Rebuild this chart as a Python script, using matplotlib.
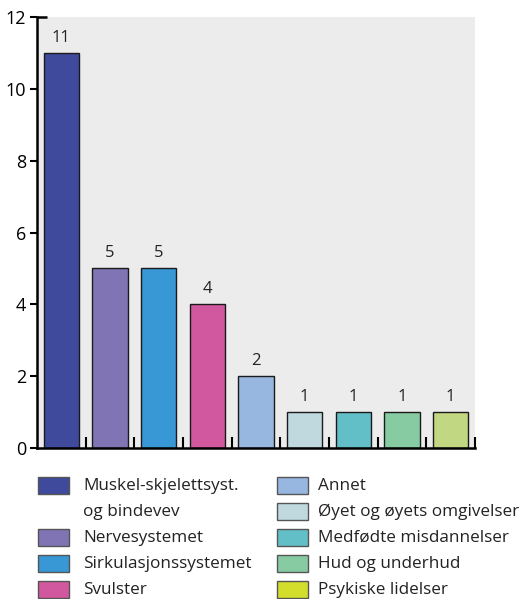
import matplotlib
matplotlib.use("Agg")
import matplotlib.pyplot as plt
from matplotlib.patches import Rectangle

categories = [
    "Muskel-skjelettsyst.\nog bindevev",
    "Nervesystemet",
    "Sirkulasjonssystemet",
    "Svulster",
    "Annet",
    "Øyet og øyets omgivelser",
    "Medfødte misdannelser",
    "Hud og underhud",
    "Psykiske lidelser",
]
values = [11, 5, 5, 4, 2, 1, 1, 1, 1]
bar_colors = ["#3F4A9C", "#8174B5", "#3798D5", "#D1589F", "#97B6E0",
              "#BFD9DF", "#62BFC7", "#87CBA2", "#C2D782"]
legend_colors = ["#3F4A9C", "#8174B5", "#3798D5", "#D1589F", "#97B6E0",
                 "#BFD9DF", "#62BFC7", "#87CBA2", "#D3DE2C"]
y_ticks = [0, 2, 4, 6, 8, 10, 12]

plt.rcParams["font.family"] = ["Open Sans", "DejaVu Sans"]

W, H = 522, 599
fig = plt.figure(figsize=(W / 100, H / 100), dpi=100)
ax = fig.add_axes([37 / W, 1 - 448 / H, (475 - 37) / W, (448 - 17) / H])
ax.set_facecolor("#ECECEC")

x = list(range(len(values)))
ax.bar(x, values, width=0.72, color=bar_colors, edgecolor="#1a1a1a",
       linewidth=1.0, zorder=3)
for xi, v in zip(x, values):
    ax.text(xi, v + 0.2, str(v), ha="center", va="bottom", fontsize=12,
            color="#222222")

ax.set_xlim(-0.5, len(values) - 0.5)
ax.set_ylim(0, 12)
ax.set_yticks(y_ticks)
ax.tick_params(axis="y", direction="out", length=5, width=1.5,
               labelsize=13, pad=3, colors="black")
ax.set_xticks([i + 0.5 for i in range(len(values))])
ax.set_xticklabels([])
ax.tick_params(axis="x", direction="in", length=8, width=1.5)

for s in ("top", "right"):
    ax.spines[s].set_visible(False)
for s in ("left", "bottom"):
    ax.spines[s].set_linewidth(1.8)
    ax.spines[s].set_color("black")
    ax.spines[s].set_zorder(5)
# small cap at the top of the value axis
ax.plot([0, 0.022], [1, 1], transform=ax.transAxes, color="black",
        lw=1.8, clip_on=False, zorder=5, solid_capstyle="butt")

# legend in two columns
def fx(px):
    return px / W

def fy(py):
    return 1 - py / H

LINE = 26
rows_left = [486, 538, 564, 590]
rows_right = [486, 512, 538, 564, 590]
positions = [(38, 83, rows_left[i]) for i in range(4)] + \
            [(277, 318, rows_right[i]) for i in range(5)]
for (px, tx, py), label, col in zip(positions, categories, legend_colors):
    fig.patches.append(Rectangle((fx(px), fy(py + 8)), fx(31), 17 / H,
                                 transform=fig.transFigure, facecolor=col,
                                 edgecolor="#555555", linewidth=1.0))
    for k, line in enumerate(label.split("\n")):
        fig.text(fx(tx), fy(py + k * LINE), line, ha="left", va="center",
                 fontsize=12.3, color="#222222")

fig.savefig("out.png", dpi=100)
